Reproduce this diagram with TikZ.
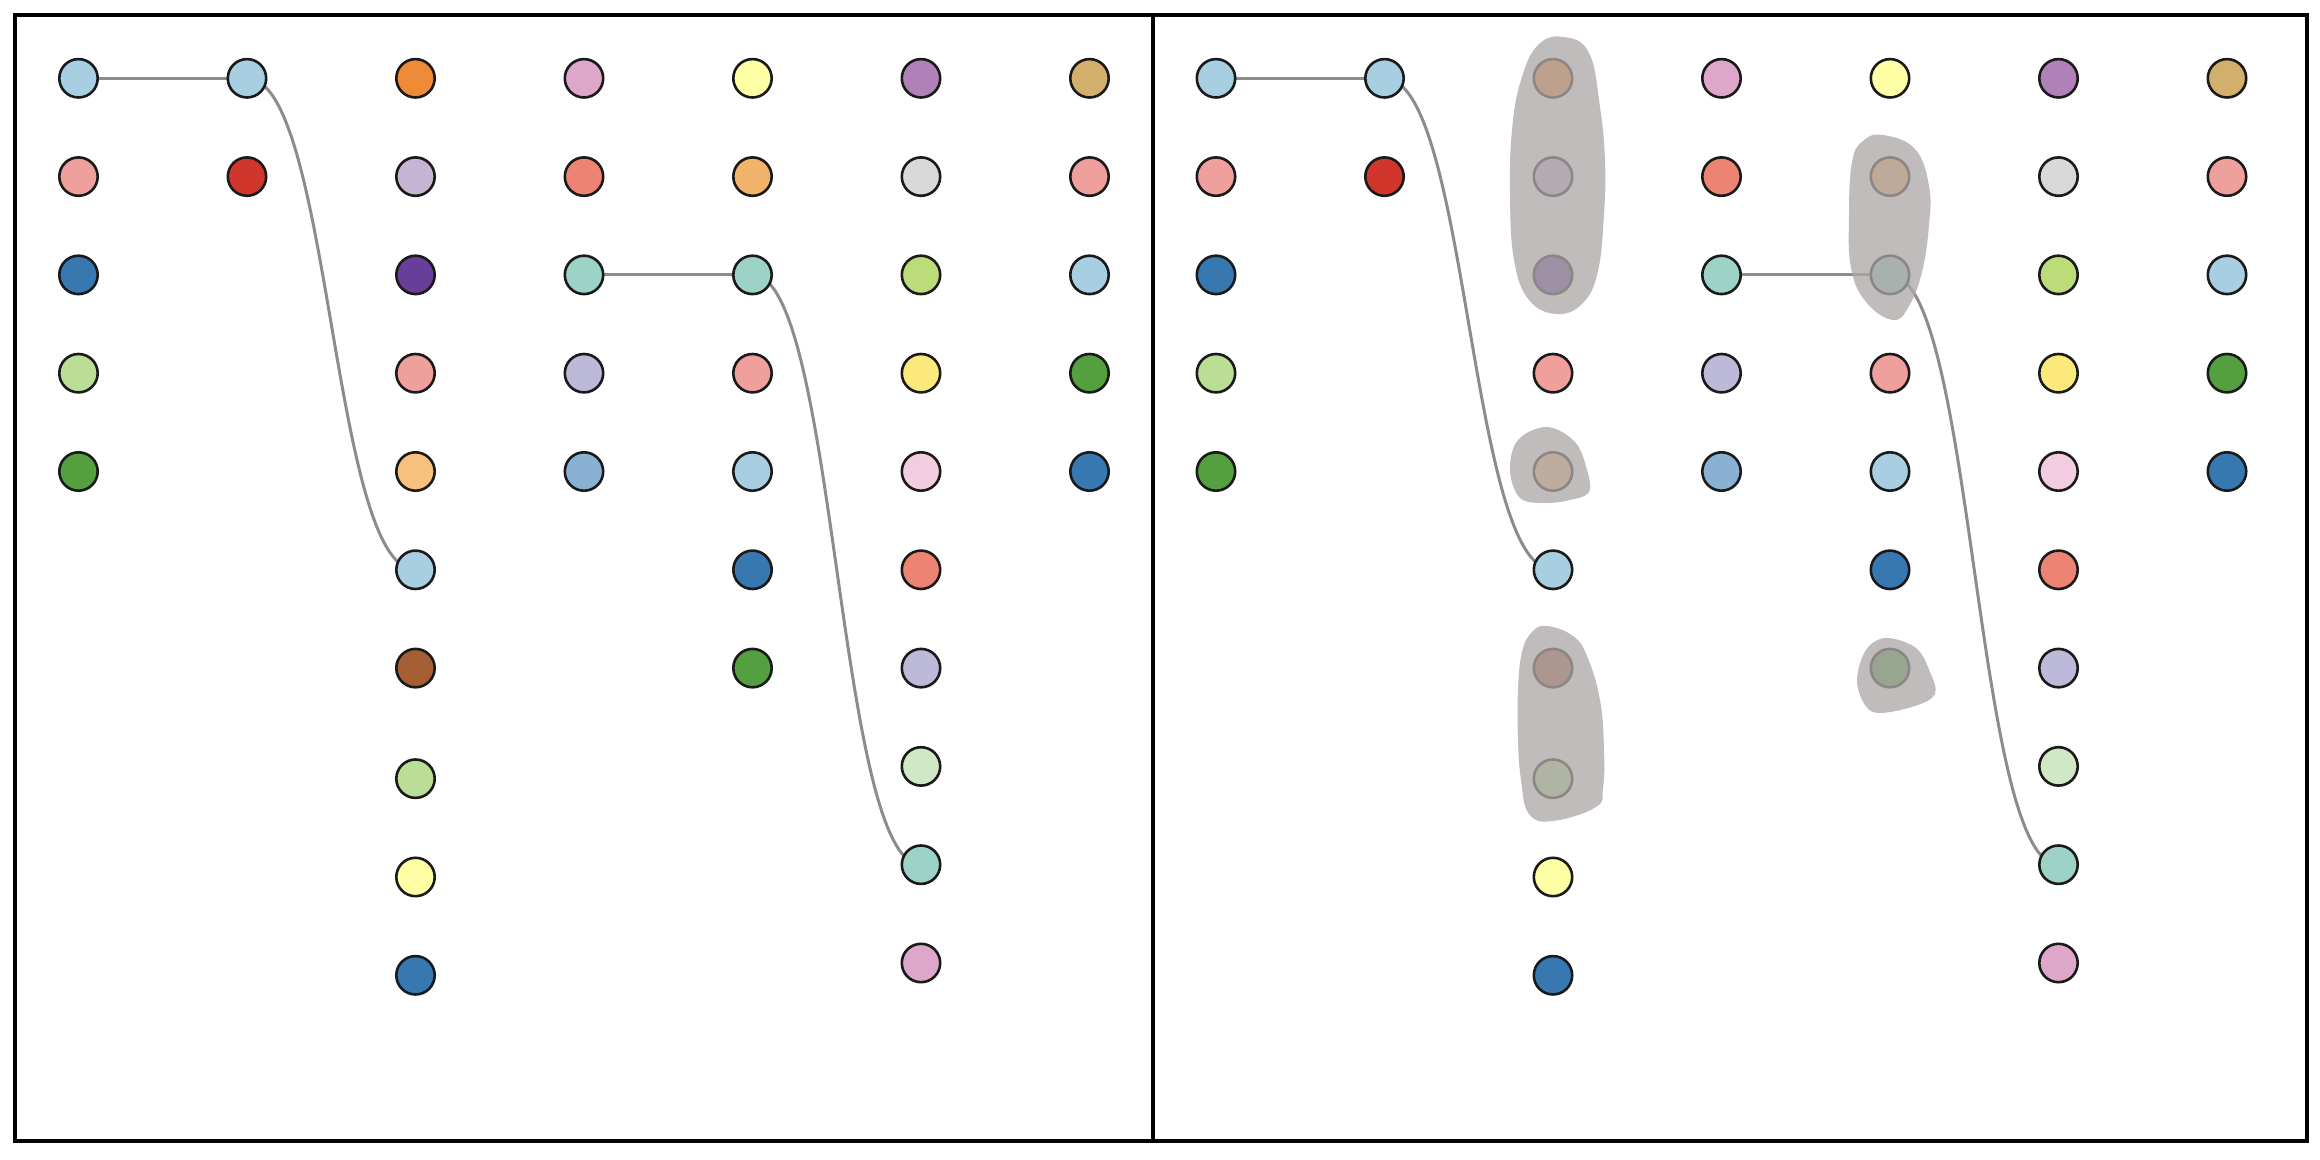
\documentclass[tikz,border=0pt]{standalone}
\usetikzlibrary{backgrounds}
\definecolor{cLB}{RGB}{168,206,226}
\definecolor{cPk}{RGB}{240,160,156}
\definecolor{cBl}{RGB}{56,120,176}
\definecolor{cLG}{RGB}{186,222,150}
\definecolor{cGr}{RGB}{84,160,64}
\definecolor{cRd}{RGB}{208,54,44}
\definecolor{cOr}{RGB}{239,138,54}
\definecolor{cLP}{RGB}{198,180,212}
\definecolor{cDP}{RGB}{104,62,152}
\definecolor{cLO}{RGB}{246,192,125}
\definecolor{cBr}{RGB}{166,94,52}
\definecolor{cLY}{RGB}{255,255,166}
\definecolor{cLi}{RGB}{222,166,200}
\definecolor{cSa}{RGB}{237,132,115}
\definecolor{cTe}{RGB}{156,211,198}
\definecolor{cLa}{RGB}{188,185,217}
\definecolor{cSB}{RGB}{138,176,212}
\definecolor{cLO2}{RGB}{242,180,107}
\definecolor{cPu}{RGB}{176,128,185}
\definecolor{cGy}{RGB}{217,217,217}
\definecolor{cLm}{RGB}{188,220,122}
\definecolor{cYe}{RGB}{252,233,124}
\definecolor{cLPk}{RGB}{242,205,226}
\definecolor{cPG}{RGB}{208,232,198}
\definecolor{cTan}{RGB}{210,176,108}
\definecolor{cEdge}{RGB}{140,140,140}
\definecolor{cBlob}{RGB}{174,168,168}
\definecolor{cOut}{RGB}{26,26,26}
\tikzset{
  dot/.style={circle, draw=cOut, line width=1.3pt, minimum size=19.2pt, inner sep=0pt, outer sep=0pt},
  link/.style={draw=cEdge, line width=1.5pt},
  frame/.style={draw=black, line width=2.1pt},
  blob/.style={fill=cBlob, fill opacity=0.77, draw=none}
}
% #1 prefix, #2 col, #3 row, #4 colour
\newcommand{\mydot}[4]{\node[dot, fill=#4] (#1-#2-#3) at ({78.5+168.5*(#2-1)},{78.3+98.3*(#3-1)}) {};}
\newcommand{\mydotoff}[5]{\node[dot, fill=#5] (#1-#2-#3) at ({78.5+168.5*(#2-1)},{78.3+98.3*(#4-1)}) {};}
\newcommand{\mypanel}[1]{%
  \mydot{#1}{1}{1}{cLB}\mydot{#1}{1}{2}{cPk}\mydot{#1}{1}{3}{cBl}\mydot{#1}{1}{4}{cLG}\mydot{#1}{1}{5}{cGr}
  \mydot{#1}{2}{1}{cLB}\mydot{#1}{2}{2}{cRd}
  \mydot{#1}{3}{1}{cOr}\mydot{#1}{3}{2}{cLP}\mydot{#1}{3}{3}{cDP}\mydot{#1}{3}{4}{cPk}\mydot{#1}{3}{5}{cLO}
  \mydot{#1}{3}{6}{cLB}\mydot{#1}{3}{7}{cBr}
  \mydotoff{#1}{3}{8}{8.125}{cLG}\mydotoff{#1}{3}{9}{9.125}{cLY}\mydotoff{#1}{3}{10}{10.125}{cBl}
  \mydot{#1}{4}{1}{cLi}\mydot{#1}{4}{2}{cSa}\mydot{#1}{4}{3}{cTe}\mydot{#1}{4}{4}{cLa}\mydot{#1}{4}{5}{cSB}
  \mydot{#1}{5}{1}{cLY}\mydot{#1}{5}{2}{cLO2}\mydot{#1}{5}{3}{cTe}\mydot{#1}{5}{4}{cPk}\mydot{#1}{5}{5}{cLB}
  \mydot{#1}{5}{6}{cBl}\mydot{#1}{5}{7}{cGr}
  \mydot{#1}{6}{1}{cPu}\mydot{#1}{6}{2}{cGy}\mydot{#1}{6}{3}{cLm}\mydot{#1}{6}{4}{cYe}\mydot{#1}{6}{5}{cLPk}
  \mydot{#1}{6}{6}{cSa}\mydot{#1}{6}{7}{cLa}\mydot{#1}{6}{8}{cPG}\mydot{#1}{6}{9}{cTe}\mydot{#1}{6}{10}{cLi}
  \mydot{#1}{7}{1}{cTan}\mydot{#1}{7}{2}{cPk}\mydot{#1}{7}{3}{cLB}\mydot{#1}{7}{4}{cGr}\mydot{#1}{7}{5}{cBl}
  \begin{pgfonlayer}{background}
    \draw[link] (#1-1-1.center) -- (#1-2-1.center);
    \draw[link] (#1-2-1.center) .. controls +(84.25,0) and +(-84.25,0) .. (#1-3-6.center);
    \draw[link] (#1-4-3.center) -- (#1-5-3.center);
    \draw[link] (#1-5-3.center) .. controls +(84.25,0) and +(-84.25,0) .. (#1-6-9.center);
  \end{pgfonlayer}
}
\begin{document}
\begin{tikzpicture}[x=0.5pt, y=-0.5pt]
\useasboundingbox (0,0) rectangle (2320,1160);
% left panel
\begin{scope}
  \mypanel{L}
\end{scope}
% right panel
\begin{scope}[shift={(1137.5,0)}]
  \mypanel{R}
\end{scope}
% grey group hulls in the right panel
\fill[blob] plot[smooth cycle, tension=0.7] coordinates {
  (1564,37) (1589,53) (1600,107) (1605,161) (1604,214) (1598,271) (1583,303)
  (1557,314) (1529,300) (1514,260) (1510,195) (1512,130) (1521,80) (1538,45)};
\fill[blob] plot[smooth cycle, tension=0.6] coordinates {
  (1547,427) (1575,442) (1587,470) (1589,492) (1570,500) (1545,503) (1520,498)
  (1510,470) (1518,440)};
\fill[blob] plot[smooth cycle, tension=0.7] coordinates {
  (1883,135) (1915,149) (1929,186) (1929,225) (1922,272) (1909,306)
  (1893,320) (1866,302) (1851,268) (1849,214) (1852,162) (1863,141)};
\fill[blob] plot[smooth cycle, tension=0.7] coordinates {
  (1547,626) (1573,636) (1587,656) (1600,700) (1604,750) (1603,788) (1596,807)
  (1553,821) (1529,814) (1521,780) (1518,740) (1518,690) (1522,652) (1532,632)};
\fill[blob] plot[smooth cycle, tension=0.6] coordinates {
  (1886,638) (1916,648) (1930,672) (1935,694) (1915,706) (1880,713) (1865,705)
  (1857,680) (1866,650)};
% frames
\draw[frame] (15,15) rectangle (2307,1141);
\draw[frame] (1153,15) -- (1153,1141);
\end{tikzpicture}
\end{document}
